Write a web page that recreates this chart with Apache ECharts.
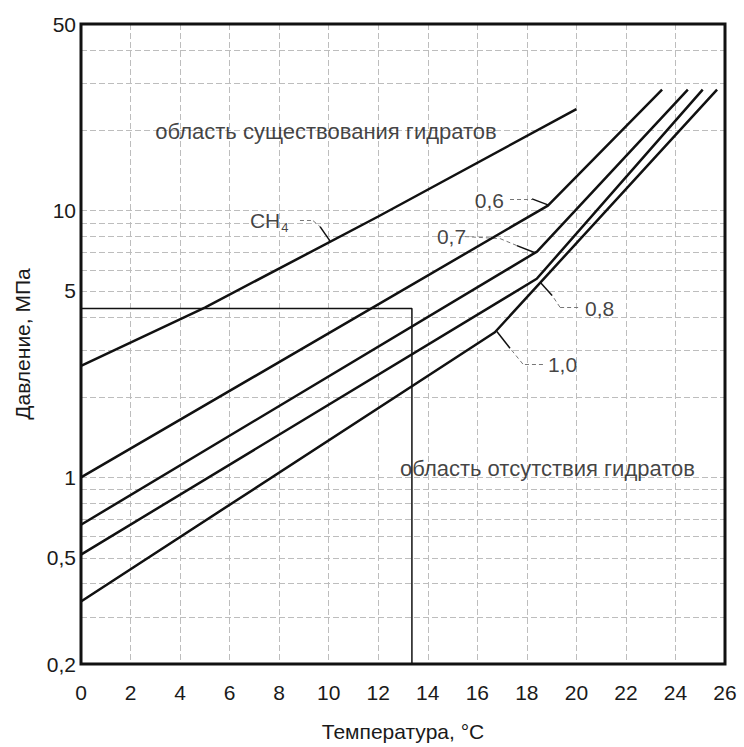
<!DOCTYPE html>
<html>
<head>
<meta charset="utf-8">
<title>Гидраты</title>
<script src="https://cdn.jsdelivr.net/npm/echarts@6/dist/echarts.min.js"></script>
<style>
	html, body { margin: 0; padding: 0; background: #fff; }
	#chart_box { width: 744px; height: 747px; }
</style>
</head>
<body>
<div id="chart_box"></div>
<script>
/*подписи оси давления*/
var yLabelValues = [0.2, 0.5, 1, 5, 10, 50];
/*горизонтальная сетка*/
var yGridValues = [0.3, 0.4, 0.5, 0.6, 0.7, 0.8, 0.9, 1, 2, 3, 4, 5, 6, 7, 8, 9, 10, 20, 30, 40];

/*кривые: температура, давление*/
var ch4T = [0, 5, 12, 20];
var ch4P = [2.62, 4.33, 9.5, 24];
var g06T = [0, 18.85, 23.46];
var g06P = [1.0, 10.44, 28.4];
var g07T = [0, 18.41, 24.5];
var g07P = [0.665, 7.02, 28.4];
var g08T = [0, 18.4, 25.1];
var g08P = [0.514, 5.55, 28.4];
var g10T = [0, 16.71, 25.68];
var g10P = [0.343, 3.5, 28.4];
/*пример: линия 4,3 МПа и 13,4 °C*/
var boxT = [0, 13.36, 13.36];
var boxP = [4.3, 4.3, 0.2];

/*надписи областей*/
var areaText = ['область существования гидратов', 'область отсутствия гидратов'];
var areaT = [3.0, 12.88];
var areaP = [19.8, 1.08];
/*подписи кривых*/
var noteText = ['{a|CH}{s|4}', '0,6', '0,7', '0,8', '1,0'];
var noteT = [6.82, 15.9, 14.37, 20.35, 18.85];
var noteP = [9.16, 10.87, 7.99, 4.31, 2.64];

/*выноски (пунктир) и стрелки*/
var leaders = [
	[[8.84, 9.16], [9.37, 9.16], [9.65, 8.7]],
	[[17.32, 11.06], [18.21, 11.06]],
	[[15.5, 7.99], [16.92, 7.85], [17.6, 7.39]],
	[[20.07, 4.34], [19.34, 4.34], [19.02, 4.81]],
	[[18.65, 2.66], [17.84, 2.66], [17.32, 3.05]]
];
var arrows = [
	[[9.65, 8.7], [10.05, 7.7]],
	[[18.21, 11.06], [18.85, 10.5]],
	[[17.6, 7.39], [18.33, 6.95]],
	[[19.02, 4.81], [18.53, 5.4]],
	[[17.32, 3.05], [16.79, 3.52]]
];

function pairs(xs, ys) {
	var out = [];
	for(var i = 0; i < xs.length; i++) {
		out.push([xs[i], ys[i]]);
	}
	return out;
}

function segments(list) {
	var out = [];
	for(var i = 0; i < list.length; i++) {
		for(var j = 0; j < list[i].length - 1; j++) {
			out.push([{ coord: list[i][j] }, { coord: list[i][j + 1] }]);
		}
	}
	return out;
}

var fontFam = 'Liberation Sans, Arial, sans-serif';

var myChart = echarts.init(document.getElementById('chart_box'), null, { renderer: 'svg' });

function curve(name, xs, ys, width) {
	return {
		name: name,
		type: 'line',
		data: pairs(xs, ys),
		showSymbol: false,
		symbol: 'none',
		z: 5,
		lineStyle: { color: '#111', width: width || 2.5 },
		silent: true
	};
}

function notes(xs, ys, texts, size) {
	return {
		type: 'scatter',
		symbolSize: 0,
		silent: true,
		z: 6,
		data: pairs(xs, ys).map(function(p, i) {
			return { value: p, text: texts[i] };
		}),
		label: {
			show: true,
			position: 'right',
			distance: 0,
			color: '#111',
			fontSize: size,
			fontFamily: fontFam,
			formatter: function(p) {
				return p.data.text;
			},
			rich: {
				a: { fontSize: size, color: '#111', fontFamily: fontFam },
				s: { fontSize: 13, color: '#111', fontFamily: fontFam, padding: [14, 0, 0, 1] }
			}
		}
	};
}

var option = {
	backgroundColor: '#fff',
	animation: false,
	textStyle: { fontFamily: fontFam },
	grid: {
		left: 81,
		top: 24,
		right: 19,
		bottom: 79,
		show: true,
		borderColor: '#111',
		borderWidth: 3,
		z: 10
	},
	xAxis: {
		type: 'value',
		min: 0,
		max: 26,
		interval: 2,
		name: 'Температура, °C',
		nameLocation: 'middle',
		nameGap: 57,
		nameTextStyle: { fontSize: 21, color: '#1a1a1a', fontFamily: fontFam },
		axisLine: { show: false },
		axisTick: { show: false },
		axisLabel: { fontSize: 21, color: '#1a1a1a', margin: 18, fontFamily: fontFam },
		splitLine: { show: true, lineStyle: { color: '#bdbdbd', width: 1, type: [6, 3] } }
	},
	yAxis: {
		type: 'log',
		logBase: 10,
		min: 0.2,
		max: 50,
		name: 'Давление, МПа',
		nameLocation: 'middle',
		nameGap: 48,
		nameTextStyle: { fontSize: 21, color: '#1a1a1a', fontFamily: fontFam },
		axisLine: { show: false },
		axisTick: { show: false },
		splitLine: { show: false },
		axisLabel: {
			fontSize: 21,
			color: '#1a1a1a',
			margin: 5,
			fontFamily: fontFam,
			customValues: yLabelValues,
			formatter: function(v) {
				return String(v).replace('.', ',');
			}
		}
	},
	series: [{
		/*сетка*/
		type: 'line',
		data: [],
		silent: true,
		markLine: {
			silent: true,
			symbol: 'none',
			label: { show: false },
			lineStyle: { color: '#bdbdbd', width: 1, type: [6, 3] },
			data: yGridValues.map(function(v) { return { yAxis: v }; })
		}
	},
		curve('CH4', ch4T, ch4P),
		curve('0,6', g06T, g06P),
		curve('0,7', g07T, g07P),
		curve('0,8', g08T, g08P),
		curve('1,0', g10T, g10P),
		curve('box', boxT, boxP, 1.5),
		notes(areaT, areaP, areaText, 22),
		notes(noteT, noteP, noteText, 21),
	{
		/*выноски и стрелки*/
		type: 'line',
		data: [],
		silent: true,
		z: 7,
		markLine: {
			silent: true,
			symbol: 'none',
			label: { show: false },
			lineStyle: { color: '#777', width: 1, type: [4, 3] },
			data: segments(leaders)
		}
	}, {
		type: 'line',
		data: [],
		silent: true,
		z: 7,
		markLine: {
			silent: true,
			symbol: ['none', 'arrow'],
			symbolSize: [0, 16],
			label: { show: false },
			lineStyle: { color: '#111', width: 1.5, type: 'solid' },
			data: segments(arrows)
		}
	}]
};

myChart.setOption(option);
</script>
</body>
</html>
